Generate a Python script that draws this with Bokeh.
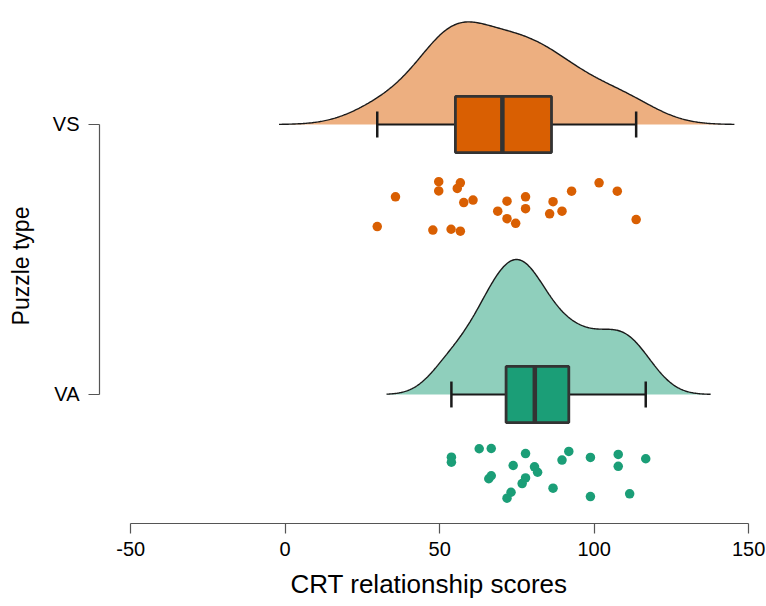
import numpy as np
from bokeh.plotting import figure
from bokeh.models import Range1d, FixedTicker, ColumnDataSource
from bokeh.embed import file_html
from bokeh.resources import INLINE

# ---------------- data ----------------
categories = ["VA", "VS"]          # y positions 1, 2
category_pos = [1, 2]
tick_values = [-50, 0, 50, 100, 150]
tick_labels = ["-50", "0", "50", "100", "150"]

vs_scores = [35.7, 29.8, 49.7, 49.7, 56.7, 55.7, 57.8, 60.8, 47.8, 53.7, 56.7, 71.8,
             77.8, 77.8, 68.8, 71.8, 74.6, 86.7, 85.6, 89.6, 92.7, 101.6, 107.5, 113.6]
vs_jitter = [-0.268, -0.378, -0.212, -0.246, -0.216, -0.237, -0.289, -0.280, -0.391, -0.388,
             -0.395, -0.284, -0.268, -0.312, -0.321, -0.349, -0.366, -0.286, -0.331, -0.321,
             -0.247, -0.216, -0.247, -0.352]

va_scores = [53.8, 53.8, 62.8, 66.7, 77.8, 73.8, 65.9, 66.7, 80.7, 81.7, 77.8, 76.7,
             73.1, 71.8, 91.8, 89.6, 86.7, 98.8, 98.8, 107.8, 107.8, 116.7, 111.5]
va_jitter = [-0.232, -0.251, -0.201, -0.200, -0.219, -0.263, -0.312, -0.301, -0.268, -0.288,
             -0.309, -0.330, -0.362, -0.384, -0.211, -0.243, -0.347, -0.233, -0.378, -0.222,
             -0.266, -0.238, -0.368]

# box statistics: lower whisker, Q1, median, Q3, upper whisker
vs_box = [29.8, 55.1, 70.3, 86.2, 113.6]
va_box = [53.8, 71.5, 80.8, 91.8, 116.7]

# kernel bandwidths and violin peak heights (in category units)
vs_bw, va_bw = 10.6, 7.0
vs_peak, va_peak = 0.38, 0.50

# ---------------- styling ----------------
colors = {
    "VS": dict(light="#EDAF80", dark="#D95F02"),
    "VA": dict(light="#8FCFBC", dark="#1B9E77"),
}
FONT = "Liberation Sans"

p = figure(width=766, height=606, output_backend="svg", toolbar_location=None,
           x_range=Range1d(-60.1, 153.2), y_range=Range1d(0.5222, 2.4296),
           min_border_left=99, min_border_right=8, min_border_top=8, min_border_bottom=83)
p.outline_line_color = None
p.xgrid.visible = False
p.ygrid.visible = False
p.background_fill_color = "white"


def kde(scores, bw):
    s = np.asarray(scores, dtype=float)
    grid = np.linspace(s.min() - 3 * bw, s.max() + 3 * bw, 400)
    dens = np.exp(-0.5 * ((grid[:, None] - s[None, :]) / bw) ** 2).sum(axis=1)
    dens /= (len(s) * bw * np.sqrt(2 * np.pi))
    return grid, dens


groups = [
    ("VS", 2, vs_scores, vs_jitter, vs_box, vs_bw, vs_peak),
    ("VA", 1, va_scores, va_jitter, va_box, va_bw, va_peak),
]

box_half = 0.104
cap_half = 0.048

for name, ypos, scores, jitter, box, bw, peak in groups:
    c = colors[name]
    gx, gd = kde(scores, bw)
    h = gd / gd.max() * peak
    xs = np.concatenate([gx, gx[::-1]])
    ys = np.concatenate([ypos + h, np.full_like(gx, ypos)])
    p.patch(xs, ys, fill_color=c["light"], line_color=None)
    p.line(gx, ypos + h, line_color="#1a1a1a", line_width=1.4)

    lo, q1, med, q3, hi = box
    # whiskers
    p.segment(x0=[lo, q3], y0=[ypos, ypos], x1=[q1, hi], y1=[ypos, ypos],
              line_color="#1a1a1a", line_width=2.2)
    p.segment(x0=[lo, hi], y0=[ypos - cap_half] * 2, x1=[lo, hi], y1=[ypos + cap_half] * 2,
              line_color="#1a1a1a", line_width=2.5)
    # box
    p.quad(left=[q1], right=[q3], bottom=[ypos - box_half], top=[ypos + box_half],
           fill_color=c["dark"], line_color="#333333", line_width=2.8)
    p.segment(x0=[med], y0=[ypos - box_half], x1=[med], y1=[ypos + box_half],
              line_color="#333333", line_width=4.5)
    # points
    src = ColumnDataSource(dict(x=scores, y=[ypos + j for j in jitter]))
    p.scatter("x", "y", source=src, size=9.5, fill_color=c["dark"], line_color=None)

# ---------------- axes ----------------
p.xaxis.ticker = FixedTicker(ticks=tick_values)
p.xaxis.major_label_overrides = {v: s for v, s in zip(tick_values, tick_labels)}
p.xaxis.bounds = (tick_values[0], tick_values[-1])
p.xaxis.axis_label = "CRT relationship scores"
p.yaxis.ticker = FixedTicker(ticks=category_pos)
p.yaxis.major_label_overrides = {pos: lab for pos, lab in zip(category_pos, categories)}
p.yaxis.bounds = (category_pos[0], category_pos[-1])
p.yaxis.axis_label = "Puzzle type"

for ax in (p.xaxis[0], p.yaxis[0]):
    ax.axis_line_color = "#555555"
    ax.axis_line_width = 1.2
    ax.major_tick_line_color = "#555555"
    ax.major_tick_line_width = 1.2
    ax.major_tick_in = 0
    ax.minor_tick_line_color = None
    ax.major_label_text_font = FONT
    ax.major_label_text_font_size = "20px"
    ax.major_label_text_color = "black"
    ax.axis_label_text_font = FONT
    ax.axis_label_text_font_style = "normal"
    ax.axis_label_text_color = "black"

p.xaxis.axis_label_text_font_size = "26px"
p.yaxis.axis_label_text_font_size = "23px"
p.xaxis.major_tick_out = 10
p.xaxis.major_label_standoff = 8
p.xaxis.axis_label_standoff = 10
p.yaxis.major_tick_out = 11
p.yaxis.major_label_standoff = 9
p.yaxis.axis_label_standoff = 16
p.yaxis.major_label_orientation = "horizontal"

open("out.html", "w").write(file_html(p, INLINE))
